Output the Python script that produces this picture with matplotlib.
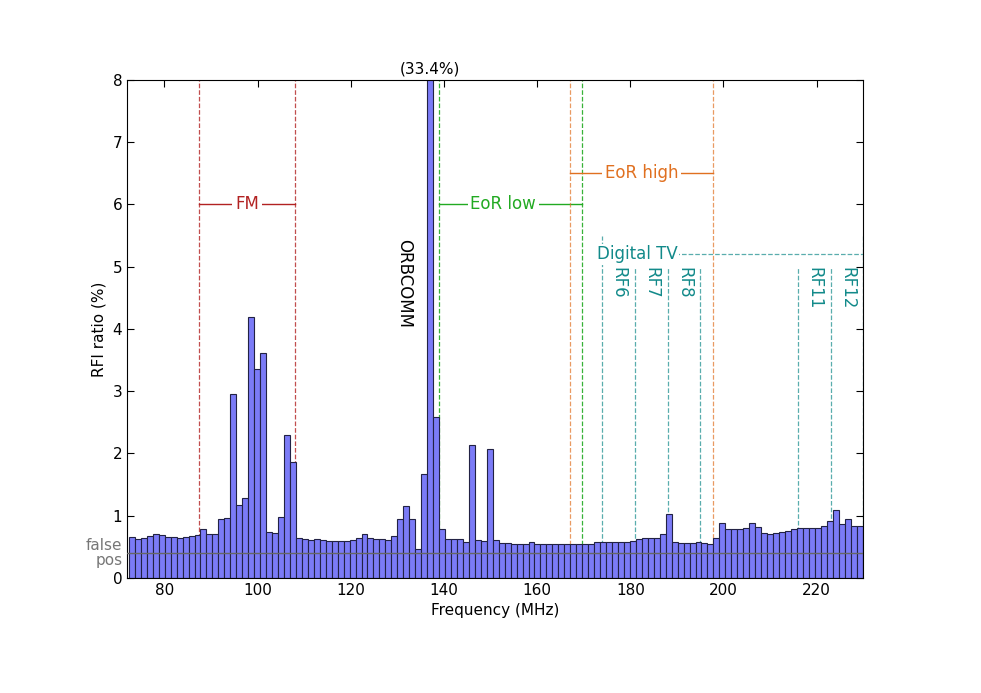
import matplotlib.pyplot as plt
import numpy as np

# RFI ratio per 1.28 MHz coarse channel, starting at 72.4 MHz
start_freq = 72.4
chan_width = 1.28
rfi_ratio = [
    0.66, 0.63, 0.65, 0.68, 0.70, 0.69, 0.66, 0.66, 0.65, 0.66,
    0.68, 0.69, 0.79, 0.70, 0.70, 0.94, 0.97, 2.95, 1.18, 1.28,
    4.19, 3.35, 3.61, 0.74, 0.72, 0.98, 2.30, 1.87, 0.65, 0.62,
    0.61, 0.63, 0.61, 0.60, 0.60, 0.59, 0.59, 0.61, 0.64, 0.71,
    0.65, 0.63, 0.63, 0.61, 0.68, 0.95, 1.16, 0.95, 0.46, 1.67,
    33.4, 2.58, 0.79, 0.63, 0.63, 0.63, 0.58, 2.14, 0.61, 0.59,
    2.07, 0.61, 0.56, 0.56, 0.55, 0.55, 0.55, 0.57, 0.55, 0.55,
    0.55, 0.55, 0.55, 0.55, 0.55, 0.54, 0.54, 0.55, 0.57, 0.57,
    0.57, 0.58, 0.58, 0.58, 0.59, 0.62, 0.64, 0.65, 0.65, 0.70,
    1.02, 0.57, 0.56, 0.56, 0.56, 0.58, 0.56, 0.55, 0.64, 0.88,
    0.79, 0.79, 0.79, 0.81, 0.88, 0.82, 0.73, 0.71, 0.72, 0.74,
    0.76, 0.78, 0.80, 0.81, 0.81, 0.81, 0.83, 0.91, 1.09, 0.86,
    0.94, 0.83, 0.83, 0.79,
]
false_pos = 0.4
fm_band = [87.5, 108.0]
eor_low = [138.9, 169.6]
eor_high = [167.0, 197.8]
dtv_edges = [174, 181, 188, 195, 216, 223, 230]
dtv_labels = ['RF6', 'RF7', 'RF8', 'RF11', 'RF12']
dtv_label_pos = [174, 181, 188, 216, 223]

C_BAR = '#7b7bf7'
C_FM = '#b22222'
C_LOW = '#22aa22'
C_HIGH = '#e07020'
C_TV = '#128a8a'

fig = plt.figure(figsize=(9.81, 6.93), dpi=100)
ax = fig.add_axes([0.1295, 0.166, 0.7505, 0.7186])

vals = np.array(rfi_ratio)
lefts = start_freq + chan_width * np.arange(len(vals))
ax.bar(lefts, np.minimum(vals, 8.2), width=chan_width, align='edge',
       color=C_BAR, edgecolor='#222244', linewidth=0.8, zorder=2)
peak = int(np.argmax(vals))
ax.text(lefts[peak] + chan_width / 2, 8.05, f'({vals[peak]:.1f}%)',
        ha='center', va='bottom', fontsize=11)

ax.axhline(false_pos, color='#666666', lw=1, zorder=3)
ax.text(71, false_pos, 'false\npos', ha='right', va='center', fontsize=11,
        color='#777777', linespacing=1.0)

# FM
for f in fm_band:
    ax.plot([f, f], [0, 8], ls='--', color=C_FM, lw=0.9, alpha=0.8, zorder=1)
mid = np.mean(fm_band)
ax.plot(fm_band, [6, 6], color=C_FM, lw=1, zorder=1)
ax.text(mid, 6, 'FM', ha='center', va='center', color=C_FM, fontsize=12,
        bbox=dict(facecolor='white', edgecolor='none', pad=2))

# EoR low
for f in eor_low:
    ax.plot([f, f], [0, 8], ls='--', color=C_LOW, lw=0.9, alpha=0.9, zorder=1)
ax.plot(eor_low, [6, 6], color=C_LOW, lw=1, zorder=1)
ax.text(np.mean(eor_low) - 1.5, 6, 'EoR low', ha='center', va='center',
        color=C_LOW, fontsize=12, bbox=dict(facecolor='white', edgecolor='none', pad=2))

# EoR high
for f in eor_high:
    ax.plot([f, f], [0, 8], ls='--', color=C_HIGH, lw=0.9, alpha=0.7, zorder=1)
ax.plot(eor_high, [6.5, 6.5], color=C_HIGH, lw=1, zorder=1)
ax.text(np.mean(eor_high), 6.5, 'EoR high', ha='center', va='center',
        color=C_HIGH, fontsize=12, bbox=dict(facecolor='white', edgecolor='none', pad=2))

# Digital TV
for i, f in enumerate(dtv_edges):
    top = 5.5 if i in (0, len(dtv_edges) - 1) else 5.0
    ax.plot([f, f], [0, top], ls='--', color=C_TV, lw=0.9, alpha=0.7, zorder=1)
ax.plot([dtv_edges[0], dtv_edges[-1]], [5.2, 5.2], ls='--', color=C_TV,
        lw=0.9, alpha=0.7, zorder=1)
ax.text(181.5, 5.2, 'Digital TV', ha='center', va='center', color=C_TV,
        fontsize=12, bbox=dict(facecolor='white', edgecolor='none', pad=1))
for lab, f in zip(dtv_labels, dtv_label_pos):
    ax.text(f + 3.5, 5.0, lab, rotation=270, ha='center', va='top',
            color=C_TV, fontsize=12)

ax.text(131.5, 5.45, 'ORBCOMM', rotation=270, ha='center', va='top', fontsize=12)

ax.set_xlim(72, 230)
ax.set_ylim(0, 8)
ax.set_xticks([80, 100, 120, 140, 160, 180, 200, 220])
ax.set_yticks(range(9))
ax.tick_params(direction='in', top=True, right=True, labelsize=11, length=5)
ax.set_xlabel('Frequency (MHz)', fontsize=11)
ax.set_ylabel('RFI ratio (%)', fontsize=11)

fig.savefig('out.png', dpi=100)
